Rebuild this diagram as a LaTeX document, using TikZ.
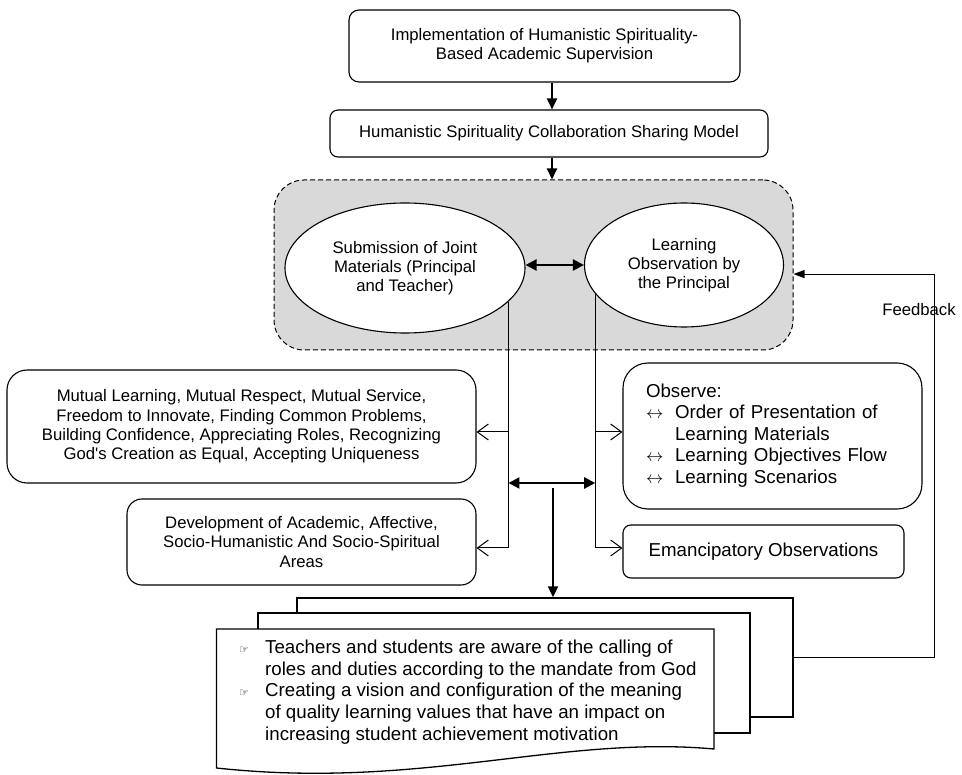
\documentclass[tikz,border=0pt]{standalone}
\usepackage{fontspec}
\setmainfont{Liberation Sans}
\newfontfamily\symfont{DejaVu Sans}
\usetikzlibrary{arrows,arrows.meta,positioning,shapes,calc}
\definecolor{groupgray}{HTML}{D9D9D9}
\newcommand\fsa{\fontsize{16.7}{19.3}\selectfont}
\newcommand\fsb{\fontsize{18.7}{21.6}\selectfont}
\newcommand\hand{\makebox[26pt][l]{\symfont\fontsize{11}{11}\selectfont ☞}}
\newcommand\twoarr{\makebox[29pt][l]{$\leftrightarrow$}}
\tikzset{
  box/.style={draw, line width=1.1pt, rounded corners=8pt, fill=white, align=center, font=\fsa, inner sep=0pt},
  bubble/.style={draw, ellipse, line width=1.1pt, fill=white, align=center, font=\fsa, inner sep=0pt},
  groupbox/.style={draw, dash pattern=on 5pt off 3pt, line width=1pt, rounded corners=30pt, fill=groupgray},
  sheet/.style={draw, line width=1.3pt, fill=white, inner sep=0pt},
  heavy/.style={line width=1.8pt, -{Triangle[length=11pt,width=10pt]}},
  twoway/.style={line width=2.2pt, {Triangle[length=11pt,width=11pt]}-{Triangle[length=11pt,width=11pt]}},
  branch/.style={line width=1pt, -{Straight Barb[length=11pt,width=16pt]}},
  fb/.style={line width=1.1pt, -{Triangle[length=11pt,width=8pt]}}
}
\begin{document}
\begin{tikzpicture}[x=1pt,y=-1pt,on grid,node distance=80pt]
  \useasboundingbox (0,0) rectangle (962,775);
  \node[box, rounded corners=10pt, minimum width=391pt, minimum height=72pt] (impl) at (544.5,46) {Implementation of Humanistic Spirituality-\\Based Academic Supervision};
  \node[box, minimum width=438pt, minimum height=47pt] (model) [below right=87.5pt and 4.5pt of impl] {Humanistic Spirituality Collaboration Sharing Model};
  \node[groupbox, minimum width=519pt, minimum height=170pt] (share) at (533.5,265) {};
  \node[bubble, minimum width=240pt, minimum height=130pt] (sub) at (405,268) {Submission of Joint\\Materials (Principal\\and Teacher)};
  \node[bubble, minimum width=199pt, minimum height=124pt] (obs) [above right=3pt and 279pt of sub] {Learning\\Observation by\\the Principal};
  \node[box, rounded corners=20pt, minimum width=469pt, minimum height=113pt] (values) at (241.5,426.5) {Mutual Learning, Mutual Respect, Mutual Service,\\Freedom to Innovate, Finding Common Problems,\\Building Confidence, Appreciating Roles, Recognizing\\God\textquotesingle s Creation as Equal, Accepting Uniqueness};
  \node[box, rounded corners=15pt, minimum width=349pt, minimum height=86pt] (areas) at (301.5,542) {Development of Academic, Affective,\\Socio-Humanistic And Socio-Spiritual\\Areas};
  \node[box, rounded corners=25pt, minimum height=146pt, text width=253pt, inner xsep=23pt, align=left, font=\fsb] (observe) at (772.5,436) {\begin{tabular}{@{}l@{}l@{}}
    \multicolumn{2}{@{}l@{}}{Observe:}\\
    \twoarr & Order of Presentation of\\
            & Learning Materials\\
    \twoarr & Learning Objectives Flow\\
    \twoarr & Learning Scenarios
  \end{tabular}};
  \node[box, minimum width=281pt, minimum height=53pt, font=\fsb] (eman) at (763.5,551.5) {Emancipatory Observations};
  \node[sheet, minimum width=496pt, minimum height=119pt] (back) at (545,657.5) {};
  \node[sheet, minimum width=492pt, minimum height=120pt] (middle) at (504,673) {};
  \draw[sheet] (216.5,629) -- (714,629) -- (714,749) .. controls (560,735) and (420,790) .. (216.5,768) -- cycle;
  \node[anchor=west, inner sep=0pt, font=\fsb, align=left] (doc) at (239,692.5) {\begin{tabular}{@{}l@{}l@{}}
    \hand & Teachers and students are aware of the calling of\\
          & roles and duties according to the mandate from God\\
    \hand & Creating a vision and configuration of the meaning\\
          & of quality learning values that have an impact on\\
          & increasing student achievement motivation
  \end{tabular}};
  \node[font=\fsa] (fbtext) at (919,310) {Feedback};
  \coordinate (spine) at (552,0);
  \coordinate (hi) at (0,432);
  \coordinate (mid) at (0,483);
  \coordinate (lo) at (0,548);
  \coordinate (drop) at (553,488);
  \draw[heavy] (impl.south -| spine) -- (model.north -| spine);
  \draw[heavy] (model.south -| spine) -- (share.north -| spine);
  \draw[twoway] (sub.east |- obs.west) -- (obs.west);
  \draw[branch] (sub.342) |- (areas.east |- lo);
  \draw[branch] (sub.342 |- hi) -- (values.east |- hi);
  \draw[branch] (obs.198) |- (eman.west |- lo);
  \draw[branch] (obs.198 |- hi) -- (observe.west |- hi);
  \draw[twoway] (sub.342 |- mid) -- (obs.198 |- mid);
  \draw[heavy] (drop) -- (drop |- back.north);
  \draw[fb] (back.east) -| ($(share.358)+(141,0)$) -- (share.358);
\end{tikzpicture}
\end{document}
